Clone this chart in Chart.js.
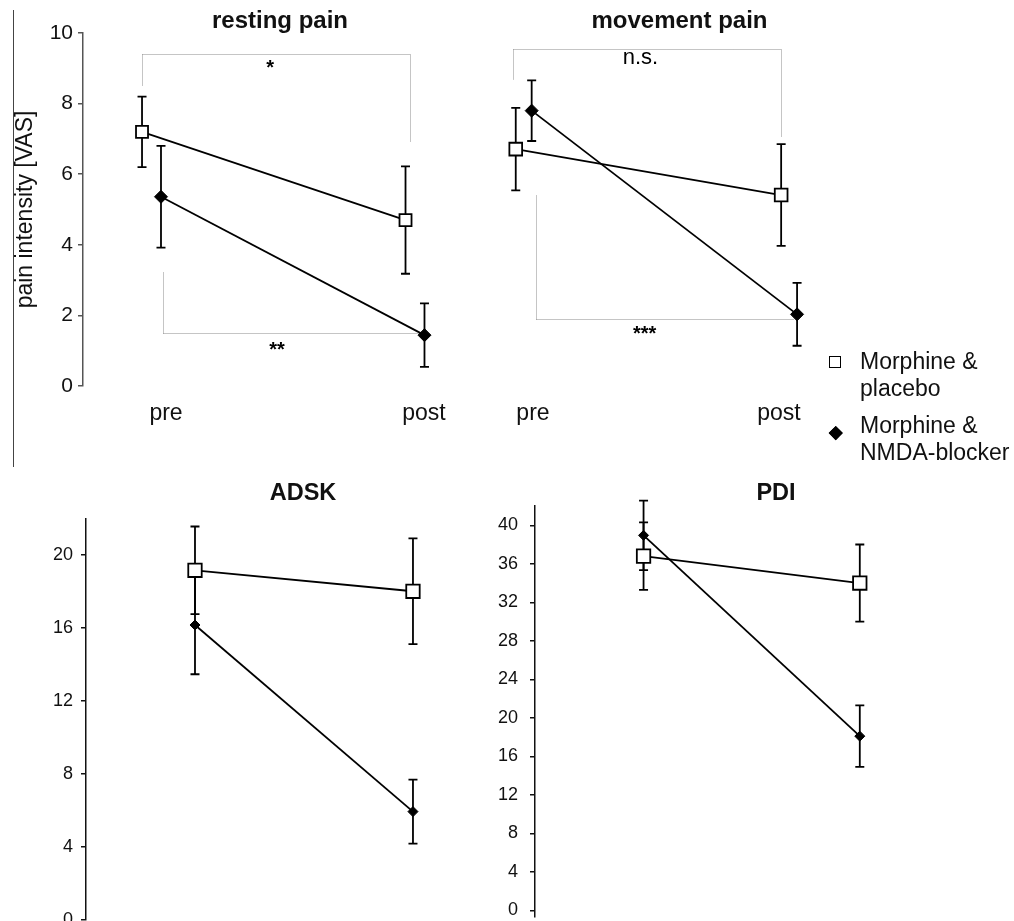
<!DOCTYPE html>
<html><head><meta charset="utf-8">
<script src="https://cdn.jsdelivr.net/npm/chart.js@4/dist/chart.umd.min.js"></script>
<style>
html,body{margin:0;padding:0;width:1014px;height:921px;overflow:hidden;background:#fff;}
body{position:relative;font-family:'Liberation Sans',Arial,Helvetica,sans-serif;}
canvas{position:absolute;}
#sep{position:absolute;left:12.5px;top:10px;width:1px;height:457px;background:#444;}
.legtxt{position:absolute;left:860px;font-size:23px;line-height:27px;color:#111;white-space:nowrap;}
.mk{position:absolute;box-sizing:border-box;border:1.8px solid #000;}
</style></head><body>
<div id="sep"></div>
<canvas id="c1" width="477" height="440" style="left:0px;top:0px"></canvas>
<canvas id="c2" width="379" height="440" style="left:490px;top:0px"></canvas>
<canvas id="c3" width="520" height="480" style="left:0px;top:460px"></canvas>
<canvas id="c4" width="537" height="480" style="left:480px;top:460px"></canvas>
<div id="legend"></div>
<script>
// ---- data ----
const timepoints = ['pre', 'post'];
const seriesNames = ['Morphine & placebo', 'Morphine & NMDA-blocker'];
const panelTitles = ['resting pain', 'movement pain', 'ADSK', 'PDI'];
const painAxisTitle = 'pain intensity [VAS]';

const restPlacebo = [7.2, 4.7];
const restPlaceboErr = [1.0, 1.52];
const restNmda = [5.36, 1.44];
const restNmdaErr = [1.44, 0.9];

const movePlacebo = [6.71, 5.41];
const movePlaceboErr = [1.17, 1.44];
const moveNmda = [7.8, 2.03];
const moveNmdaErr = [0.86, 0.89];

const adskPlacebo = [19.15, 18.0];
const adskPlaceboErr = [2.4, 2.9];
const adskNmda = [16.15, 5.92];
const adskNmdaErr = [2.7, 1.75];

const pdiPlacebo = [36.8, 34.0];
const pdiPlaceboErr = [3.5, 4.0];
const pdiNmda = [38.95, 18.1];
const pdiNmdaErr = [3.6, 3.2];

const painTicks = [0, 2, 4, 6, 8, 10];
const adskTicks = [0, 4, 8, 12, 16, 20];
const pdiTicks = [0, 4, 8, 12, 16, 20, 24, 28, 32, 36, 40];

// significance brackets (data units) and labels
const restBrackets = [
  {x1: -0.036, x2: 0.981, y: 9.4, y1: 8.5, y2: 6.9},
  {x1: 0.045, x2: 1.025, y: 1.49, y1: 3.24, y2: null}
];
const restLabels = [{text: '*', x: 0.45, y: 9.15}, {text: '**', x: 0.476, y: 1.16}];
const moveBrackets = [
  {x1: -0.039, x2: 0.968, y: 9.55, y1: 8.67, y2: 7.06},
  {x1: 0.046, x2: 1.016, y: 1.89, y1: 5.41, y2: null}
];
const moveLabels = [{text: 'n.s.', x: 0.44, y: 9.29}, {text: '***', x: 0.456, y: 1.59}];

// ---- rendering ----
const FF = "'Liberation Sans', Arial, Helvetica, sans-serif";
const LW = 1.8;

const errPlugin = {
  id: 'errbars',
  beforeDatasetsDraw(chart, args, opts) {
    const ctx = chart.ctx, ys = chart.scales.y;
    const cap = opts.cap || 4.5;
    ctx.save();
    ctx.strokeStyle = '#000';
    ctx.lineWidth = LW;
    chart.data.datasets.forEach((ds, d) => {
      const meta = chart.getDatasetMeta(d);
      meta.data.forEach((pt, i) => {
        const v = ds.data[i].y, e = ds.errors[i];
        const x = pt.x;
        const yt = ys.getPixelForValue(v + e), yb = ys.getPixelForValue(v - e);
        ctx.beginPath();
        ctx.moveTo(x, yt); ctx.lineTo(x, yb);
        ctx.moveTo(x - cap, yt); ctx.lineTo(x + cap, yt);
        ctx.moveTo(x - cap, yb); ctx.lineTo(x + cap, yb);
        ctx.stroke();
      });
    });
    ctx.restore();
  }
};

const sigPlugin = {
  id: 'sig',
  beforeDatasetsDraw(chart, args, opts) {
    const br = opts.brackets || [];
    if (!br.length) return;
    const ctx = chart.ctx, xs = chart.scales.x, ys = chart.scales.y;
    ctx.save();
    ctx.strokeStyle = '#8a8a8a';
    ctx.lineWidth = 1;
    ctx.setLineDash([1, 1]);
    br.forEach(b => {
      const X1 = Math.round(xs.getPixelForValue(b.x1)) + 0.5;
      const X2 = Math.round(xs.getPixelForValue(b.x2)) + 0.5;
      const Y = Math.round(ys.getPixelForValue(b.y)) + 0.5;
      ctx.beginPath();
      ctx.moveTo(X1, Y); ctx.lineTo(X2, Y);
      ctx.moveTo(X1, Y); ctx.lineTo(X1, ys.getPixelForValue(b.y1));
      if (b.y2 !== null && b.y2 !== undefined) {
        ctx.moveTo(X2, Y); ctx.lineTo(X2, ys.getPixelForValue(b.y2));
      }
      ctx.stroke();
    });
    ctx.restore();
  },
  afterDatasetsDraw(chart, args, opts) {
    const lb = opts.labels || [];
    const ctx = chart.ctx, xs = chart.scales.x, ys = chart.scales.y;
    ctx.save();
    ctx.fillStyle = '#000';
    ctx.textAlign = 'center';
    ctx.textBaseline = 'middle';
    lb.forEach(l => {
      const star = /^\*+$/.test(l.text);
      const size = star ? 20 : 22;
      ctx.font = (star ? 'bold ' : '') + size + 'px ' + FF;
      const px = xs.getPixelForValue(l.x), py = ys.getPixelForValue(l.y) + (star ? size * 0.25 : 0);
      ctx.fillText(l.text, px, py);
    });
    ctx.restore();
  }
};

function makePanel(id, o) {
  const datasets = [
    {
      label: seriesNames[0],
      data: timepoints.map((t, i) => ({x: i - o.off, y: o.placebo[i]})),
      errors: o.placeboErr,
      borderColor: '#000', borderWidth: LW, backgroundColor: '#fff',
      pointStyle: 'rect', pointRadius: o.sq, pointBorderWidth: LW,
      pointBackgroundColor: '#fff', pointBorderColor: '#000', tension: 0
    },
    {
      label: seriesNames[1],
      data: timepoints.map((t, i) => ({x: i + o.off, y: o.nmda[i]})),
      errors: o.nmdaErr,
      borderColor: '#000', borderWidth: LW, backgroundColor: '#000',
      pointStyle: 'rectRot', pointRadius: o.dm, pointBorderWidth: 1,
      pointBackgroundColor: '#000', pointBorderColor: '#000', tension: 0
    }
  ];
  const yTitle = o.yTitle ? {
    display: true, text: o.yTitle, color: '#111',
    font: {family: FF, size: 23}, padding: {top: 12, bottom: 0}
  } : {display: false};
  return new Chart(document.getElementById(id), {
    type: 'line',
    data: {datasets},
    options: {
      responsive: false, animation: false, events: [],
      layout: {autoPadding: false, padding: o.pad},
      plugins: {
        legend: {display: false},
        tooltip: {enabled: false},
        title: {
          display: true, text: o.title, fullSize: false, color: '#111',
          font: {family: FF, size: o.titleSize, weight: 'bold', lineHeight: 1.2},
          padding: o.titlePad
        },
        errbars: {cap: 4.5},
        sig: {brackets: o.brackets || [], labels: o.labels || []}
      },
      scales: {
        x: {
          type: 'linear', min: o.xmin, max: o.xmax, display: o.showX,
          afterFit: s => { s.height = o.xh; s.paddingLeft = 0; s.paddingRight = 0; },
          afterBuildTicks: s => { s.ticks = o.xLabelAt.map(v => ({value: v})); },
          ticks: {
            callback: (v, i) => timepoints[i], color: '#111',
            font: {family: FF, size: 23}, padding: 14,
            maxRotation: 0, autoSkip: false
          },
          grid: {display: false, drawTicks: false},
          border: {display: false}
        },
        y: {
          type: 'linear', min: o.ymin, max: o.ymax, display: o.showY,
          afterFit: s => { s.width = o.yw; },
          afterBuildTicks: s => { s.ticks = o.yTicks.map(v => ({value: v})); },
          ticks: {color: '#111', font: {family: FF, size: o.tickSize}, padding: o.tickPad},
          grid: {drawOnChartArea: false, drawTicks: true, tickLength: 5, color: o.axisColor, lineWidth: 1.5},
          border: {display: true, color: o.axisColor, width: 1.5},
          title: yTitle
        }
      }
    },
    plugins: [errPlugin, sigPlugin]
  });
}

makePanel('c1', {
  title: panelTitles[0], titleSize: 24, placebo: restPlacebo, placeboErr: restPlaceboErr,
  nmda: restNmda, nmdaErr: restNmdaErr, off: 0.036, sq: 8.5, dm: 6.5,
  xmin: -0.26, xmax: 1.2353, showX: true, xh: 54, xLabelAt: [0.055, 1.034],
  ymin: 0, ymax: 10, showY: true, yw: 83, yTicks: painTicks, tickSize: 21, tickPad: 5,
  axisColor: '#555', yTitle: painAxisTitle,
  pad: {top: 0, left: 0, right: 0, bottom: 0}, titlePad: {top: 7, bottom: -2.8},
  brackets: restBrackets, labels: restLabels
});

makePanel('c2', {
  title: panelTitles[1], titleSize: 24, placebo: movePlacebo, placeboErr: movePlaceboErr,
  nmda: moveNmda, nmdaErr: moveNmdaErr, off: 0.03, sq: 9, dm: 6.5,
  xmin: -0.127, xmax: 1.301, showX: true, xh: 54, xLabelAt: [0.035, 0.962],
  ymin: 0, ymax: 10, showY: false, yw: 0, yTicks: painTicks, tickSize: 21, tickPad: 5,
  axisColor: '#555',
  pad: {top: 0, left: 0, right: 0, bottom: 0}, titlePad: {top: 7, bottom: -2.8},
  brackets: moveBrackets, labels: moveLabels
});

makePanel('c3', {
  title: panelTitles[2], titleSize: 23.5, placebo: adskPlacebo, placeboErr: adskPlaceboErr,
  nmda: adskNmda, nmdaErr: adskNmdaErr, off: 0, sq: 9.5, dm: 5,
  xmin: -0.5, xmax: 1.491, showX: false, xh: 0, xLabelAt: [0, 1],
  ymin: 0, ymax: 22, showY: true, yw: 86, yTicks: adskTicks, tickSize: 18, tickPad: 8,
  axisColor: '#111',
  pad: {top: 0, left: 0, right: 0, bottom: 20.4}, titlePad: {top: 19.6, bottom: 10.5}
});

makePanel('c4', {
  title: panelTitles[3], titleSize: 23.5, placebo: pdiPlacebo, placeboErr: pdiPlaceboErr,
  nmda: pdiNmda, nmdaErr: pdiNmdaErr, off: 0, sq: 9.5, dm: 5,
  xmin: -0.502, xmax: 1.727, showX: false, xh: 0, xLabelAt: [0, 1],
  ymin: -0.7, ymax: 42, showY: true, yw: 55, yTicks: pdiTicks, tickSize: 18, tickPad: 12,
  axisColor: '#111',
  pad: {top: 0, left: 0, right: 0, bottom: 19.2}, titlePad: {top: 19.6, bottom: -1.8}
});

// legend (HTML text built from the series names)
(function () {
  const leg = document.getElementById('legend');
  const tops = [348, 411.5];
  const markerCenters = [[834.5, 362], [836, 432.7]];
  seriesNames.forEach((name, k) => {
    const parts = name.split('& ');
    const t = document.createElement('div');
    t.className = 'legtxt';
    t.style.top = tops[k] + 'px';
    t.innerHTML = parts[0] + '&amp;<br>' + parts[1];
    leg.appendChild(t);
    const m = document.createElement('div');
    m.className = 'mk';
    const sz = k === 0 ? 12 : 9.5;
    m.style.width = sz + 'px';
    m.style.height = sz + 'px';
    m.style.left = (markerCenters[k][0] - sz / 2) + 'px';
    m.style.top = (markerCenters[k][1] - sz / 2) + 'px';
    if (k === 0) { m.style.background = '#fff'; }
    else { m.style.background = '#000'; m.style.transform = 'rotate(45deg)'; }
    leg.appendChild(m);
  });
})();
</script>
</body></html>
